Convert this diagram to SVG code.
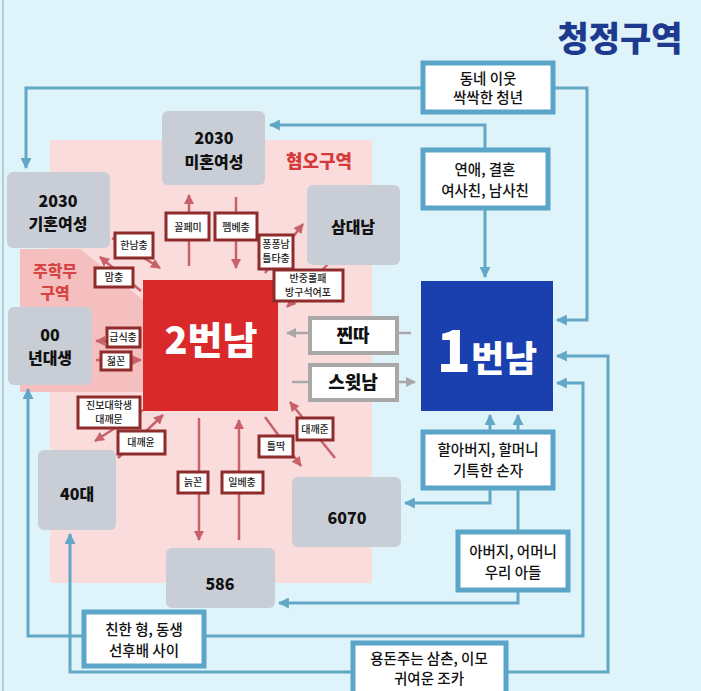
<svg xmlns="http://www.w3.org/2000/svg" width="701" height="691" viewBox="0 0 701 691">
<style>
  text { font-family: "Noto Sans CJK KR", "Noto Sans", sans-serif; text-anchor: middle; }
  .gnode { fill: #c9ced6; }
  .gtxt { font-weight: 900; fill: #111; font-size: 16px; }
  .bbox { fill: #ffffff; stroke: #5aa5c8; stroke-width: 5; }
  .btxt { font-weight: 500; fill: #111; font-size: 14.5px; }
  .bline { fill: none; stroke: #62a8c6; stroke-width: 3; }
  .rline { fill: none; stroke: #c8626a; stroke-width: 2.5; }
  .gline { fill: none; stroke: #a8a8a8; stroke-width: 2.5; }
  .lbox { fill: #ffffff; stroke: #8e2b2b; stroke-width: 3; }
  .ltxt { font-weight: 500; fill: #222; font-size: 10px; }
  .wbox { fill: #ffffff; stroke: #a8a8a8; stroke-width: 4; }
  .wtxt { font-weight: 900; fill: #111; font-size: 18px; }
</style>
<defs>
  <marker id="ab" viewBox="0 0 10 10" refX="9" refY="5" markerWidth="11" markerHeight="11" markerUnits="userSpaceOnUse" orient="auto"><path d="M0,0 L10,5 L0,10 z" fill="#62a8c6"/></marker>
  <marker id="ar" viewBox="0 0 10 10" refX="9" refY="5" markerWidth="10" markerHeight="10" markerUnits="userSpaceOnUse" orient="auto"><path d="M0,0 L10,5 L0,10 z" fill="#c8626a"/></marker>
  <marker id="ag" viewBox="0 0 10 10" refX="9" refY="5" markerWidth="10" markerHeight="10" markerUnits="userSpaceOnUse" orient="auto"><path d="M0,0 L10,5 L0,10 z" fill="#a8a8a8"/></marker>
</defs>

<rect x="0" y="0" width="701" height="691" fill="#dff3fa"/>
<line x1="3" y1="0" x2="3" y2="691" stroke="#b9cdd6" stroke-width="2"/>

<g id="zones">
  <rect x="50" y="140" width="322" height="443" fill="#fbdcdc"/>
  <polygon points="20,249 80,249 143,300 143,392 20,392" fill="#f6bfbf"/>
  <text x="319" y="168" font-size="18" font-weight="900" fill="#d63a3a">혐오구역</text>
  <text x="55" y="277" font-size="16" font-weight="900" fill="#d64545">주학무</text>
  <text x="55" y="299" font-size="16" font-weight="900" fill="#d64545">구역</text>
  <text x="620" y="51" font-size="34" font-weight="900" fill="#1e3a8f">청정구역</text>
</g>

<g id="connectors">
  <polyline class="bline" points="423,88 26,88 26,168" marker-end="url(#ab)"/>
  <polyline class="bline" points="553,88 587,88 587,320 557,320" marker-end="url(#ab)"/>
  <polyline class="bline" points="485,150 485,125 270,125" marker-end="url(#ab)"/>
  <polyline class="bline" points="485,208 485,277" marker-end="url(#ab)"/>
  <polyline class="bline" points="490,432 490,415" marker-end="url(#ab)"/>
  <polyline class="bline" points="518,432 518,415" marker-end="url(#ab)"/>
  <polyline class="bline" points="490,488 490,503 405,503" marker-end="url(#ab)"/>
  <polyline class="bline" points="518,488 518,532"/>
  <polyline class="bline" points="518,590 518,603 279,603" marker-end="url(#ab)"/>
  <polyline class="bline" points="84,636 28,636 28,389" marker-end="url(#ab)"/>
  <polyline class="bline" points="204,636 583,636 583,383 557,383" marker-end="url(#ab)"/>
  <polyline class="bline" points="353,672 70,672 70,534" marker-end="url(#ab)"/>
  <polyline class="bline" points="506,672 608,672 608,356 557,356" marker-end="url(#ab)"/>

  <line class="rline" x1="189" y1="266" x2="189" y2="195" marker-end="url(#ar)"/>
  <line class="rline" x1="236" y1="197" x2="236" y2="268" marker-end="url(#ar)"/>
  <line class="rline" x1="112" y1="238" x2="160" y2="268" marker-end="url(#ar)"/>
  <line class="rline" x1="141" y1="291" x2="100" y2="257" marker-end="url(#ar)"/>
  <line class="rline" x1="265" y1="273" x2="303" y2="224" marker-end="url(#ar)"/>
  <line class="rline" x1="328" y1="264" x2="287" y2="307" marker-end="url(#ar)"/>
  <line class="rline" x1="141" y1="341" x2="96" y2="341" marker-end="url(#ar)"/>
  <line class="rline" x1="96" y1="360" x2="141" y2="360" marker-end="url(#ar)"/>
  <line class="rline" x1="143" y1="410" x2="95" y2="441" marker-end="url(#ar)"/>
  <line class="rline" x1="118" y1="458" x2="163" y2="415" marker-end="url(#ar)"/>
  <line class="rline" x1="335" y1="458" x2="290" y2="402" marker-end="url(#ar)"/>
  <line class="rline" x1="265" y1="417" x2="301" y2="466" marker-end="url(#ar)"/>
  <line class="rline" x1="199" y1="418" x2="199" y2="540" marker-end="url(#ar)"/>
  <line class="rline" x1="239" y1="540" x2="239" y2="420" marker-end="url(#ar)"/>

  <line class="gline" x1="308" y1="333" x2="287" y2="333" marker-end="url(#ag)"/>
  <line class="gline" x1="398" y1="333" x2="411" y2="333"/>
  <line class="gline" x1="292" y1="382" x2="309" y2="382"/>
  <line class="gline" x1="397" y1="382" x2="415" y2="382" marker-end="url(#ag)"/>
</g>

<g id="n-2030-single"><rect class="gnode" x="162" y="111" width="103" height="74" rx="6"/>
  <text class="gtxt" x="214" y="144">2030</text><text class="gtxt" x="214" y="168">미혼여성</text></g>
<g id="n-2030-married"><rect class="gnode" x="7" y="172" width="103" height="76" rx="6"/>
  <text class="gtxt" x="58" y="207">2030</text><text class="gtxt" x="58" y="230">기혼여성</text></g>
<g id="n-samdae"><rect class="gnode" x="307" y="185" width="93" height="80" rx="6"/>
  <text class="gtxt" x="353" y="233" font-size="17">삼대남</text></g>
<g id="n-00"><rect class="gnode" x="8" y="307" width="84" height="78" rx="6"/>
  <text class="gtxt" x="50" y="341">00</text><text class="gtxt" x="50" y="364">년대생</text></g>
<g id="n-40"><rect class="gnode" x="38" y="450" width="78" height="80" rx="6"/>
  <text class="gtxt" x="77" y="500" font-size="21">40대</text></g>
<g id="n-586"><rect class="gnode" x="166" y="548" width="109" height="60" rx="6"/>
  <text class="gtxt" x="220" y="590" font-size="23">586</text></g>
<g id="n-6070"><rect class="gnode" x="292" y="477" width="109" height="70" rx="6"/>
  <text class="gtxt" x="347" y="524" font-size="23">6070</text></g>

<g id="n-2beonnam"><rect x="143" y="280" width="135" height="131" fill="#d9292b"/>
  <text x="211" y="354" fill="#ffffff" font-weight="900" font-size="38">2번남</text></g>
<g id="n-1beonnam"><rect x="421" y="281" width="132" height="130" fill="#1a3fae"/>
  <text x="487" y="372" fill="#ffffff" font-weight="900"><tspan font-size="56">1</tspan><tspan font-size="36">번남</tspan></text></g>

<g id="n-jjinta"><rect class="wbox" x="310" y="318" width="87" height="35"/>
  <text class="wtxt" x="353" y="342">찐따</text></g>
<g id="n-sweet"><rect class="wbox" x="310" y="365" width="87" height="35"/>
  <text class="wtxt" x="353" y="389">스윗남</text></g>

<g id="n-neighbor"><rect class="bbox" x="423" y="63" width="130" height="49"/>
  <text class="btxt" x="488" y="84">동네 이웃</text><text class="btxt" x="488" y="103">싹싹한 청년</text></g>
<g id="n-dating"><rect class="bbox" x="423" y="150" width="125" height="58"/>
  <text class="btxt" x="485" y="175">연애, 결혼</text><text class="btxt" x="485" y="196">여사친, 남사친</text></g>
<g id="n-grand"><rect class="bbox" x="423" y="432" width="130" height="56"/>
  <text class="btxt" x="488" y="455">할아버지, 할머니</text><text class="btxt" x="488" y="476">기특한 손자</text></g>
<g id="n-parents"><rect class="bbox" x="458" y="532" width="110" height="58"/>
  <text class="btxt" x="513" y="557">아버지, 어머니</text><text class="btxt" x="513" y="578">우리 아들</text></g>
<g id="n-brothers"><rect class="bbox" x="84" y="612" width="120" height="54"/>
  <text class="btxt" x="144" y="635">친한 형, 동생</text><text class="btxt" x="144" y="656">선후배 사이</text></g>
<g id="n-uncle"><rect class="bbox" x="353" y="643" width="153" height="52"/>
  <text class="btxt" x="429" y="664">용돈주는 삼촌, 이모</text><text class="btxt" x="429" y="684">귀여운 조카</text></g>

<g id="labels">
  <rect class="lbox" x="166" y="213" width="43" height="27"/><text class="ltxt" x="188" y="231">꼴페미</text>
  <rect class="lbox" x="215" y="213" width="42" height="27"/><text class="ltxt" x="236" y="231">펨베충</text>
  <rect class="lbox" x="115" y="233" width="38" height="25"/><text class="ltxt" x="134" y="249">한남충</text>
  <rect class="lbox" x="95" y="268" width="38" height="19"/><text class="ltxt" x="114" y="281">맘충</text>
  <rect class="lbox" x="259" y="235" width="34" height="34"/><text class="ltxt" x="276" y="248">퐁퐁남</text><text class="ltxt" x="276" y="262">틀타충</text>
  <rect class="lbox" x="274" y="270" width="69" height="31"/><text class="ltxt" x="308" y="282">반중롤패</text><text class="ltxt" x="308" y="296">방구석여포</text>
  <rect class="lbox" x="107" y="328" width="33" height="19"/><text class="ltxt" x="123" y="341">급식충</text>
  <rect class="lbox" x="101" y="352" width="30" height="18"/><text class="ltxt" x="116" y="365">젊꼰</text>
  <rect class="lbox" x="78" y="397" width="62" height="31"/><text class="ltxt" x="109" y="409">진보대학생</text><text class="ltxt" x="109" y="423">대깨문</text>
  <rect class="lbox" x="118" y="431" width="47" height="23"/><text class="ltxt" x="141" y="446">대깨윤</text>
  <rect class="lbox" x="297" y="418" width="36" height="22"/><text class="ltxt" x="315" y="433">대깨준</text>
  <rect class="lbox" x="259" y="436" width="34" height="21"/><text class="ltxt" x="276" y="450">틀딱</text>
  <rect class="lbox" x="178" y="472" width="30" height="21"/><text class="ltxt" x="193" y="486">늙꼰</text>
  <rect class="lbox" x="222" y="472" width="41" height="21"/><text class="ltxt" x="242" y="486">일베충</text>
</g>
</svg>
